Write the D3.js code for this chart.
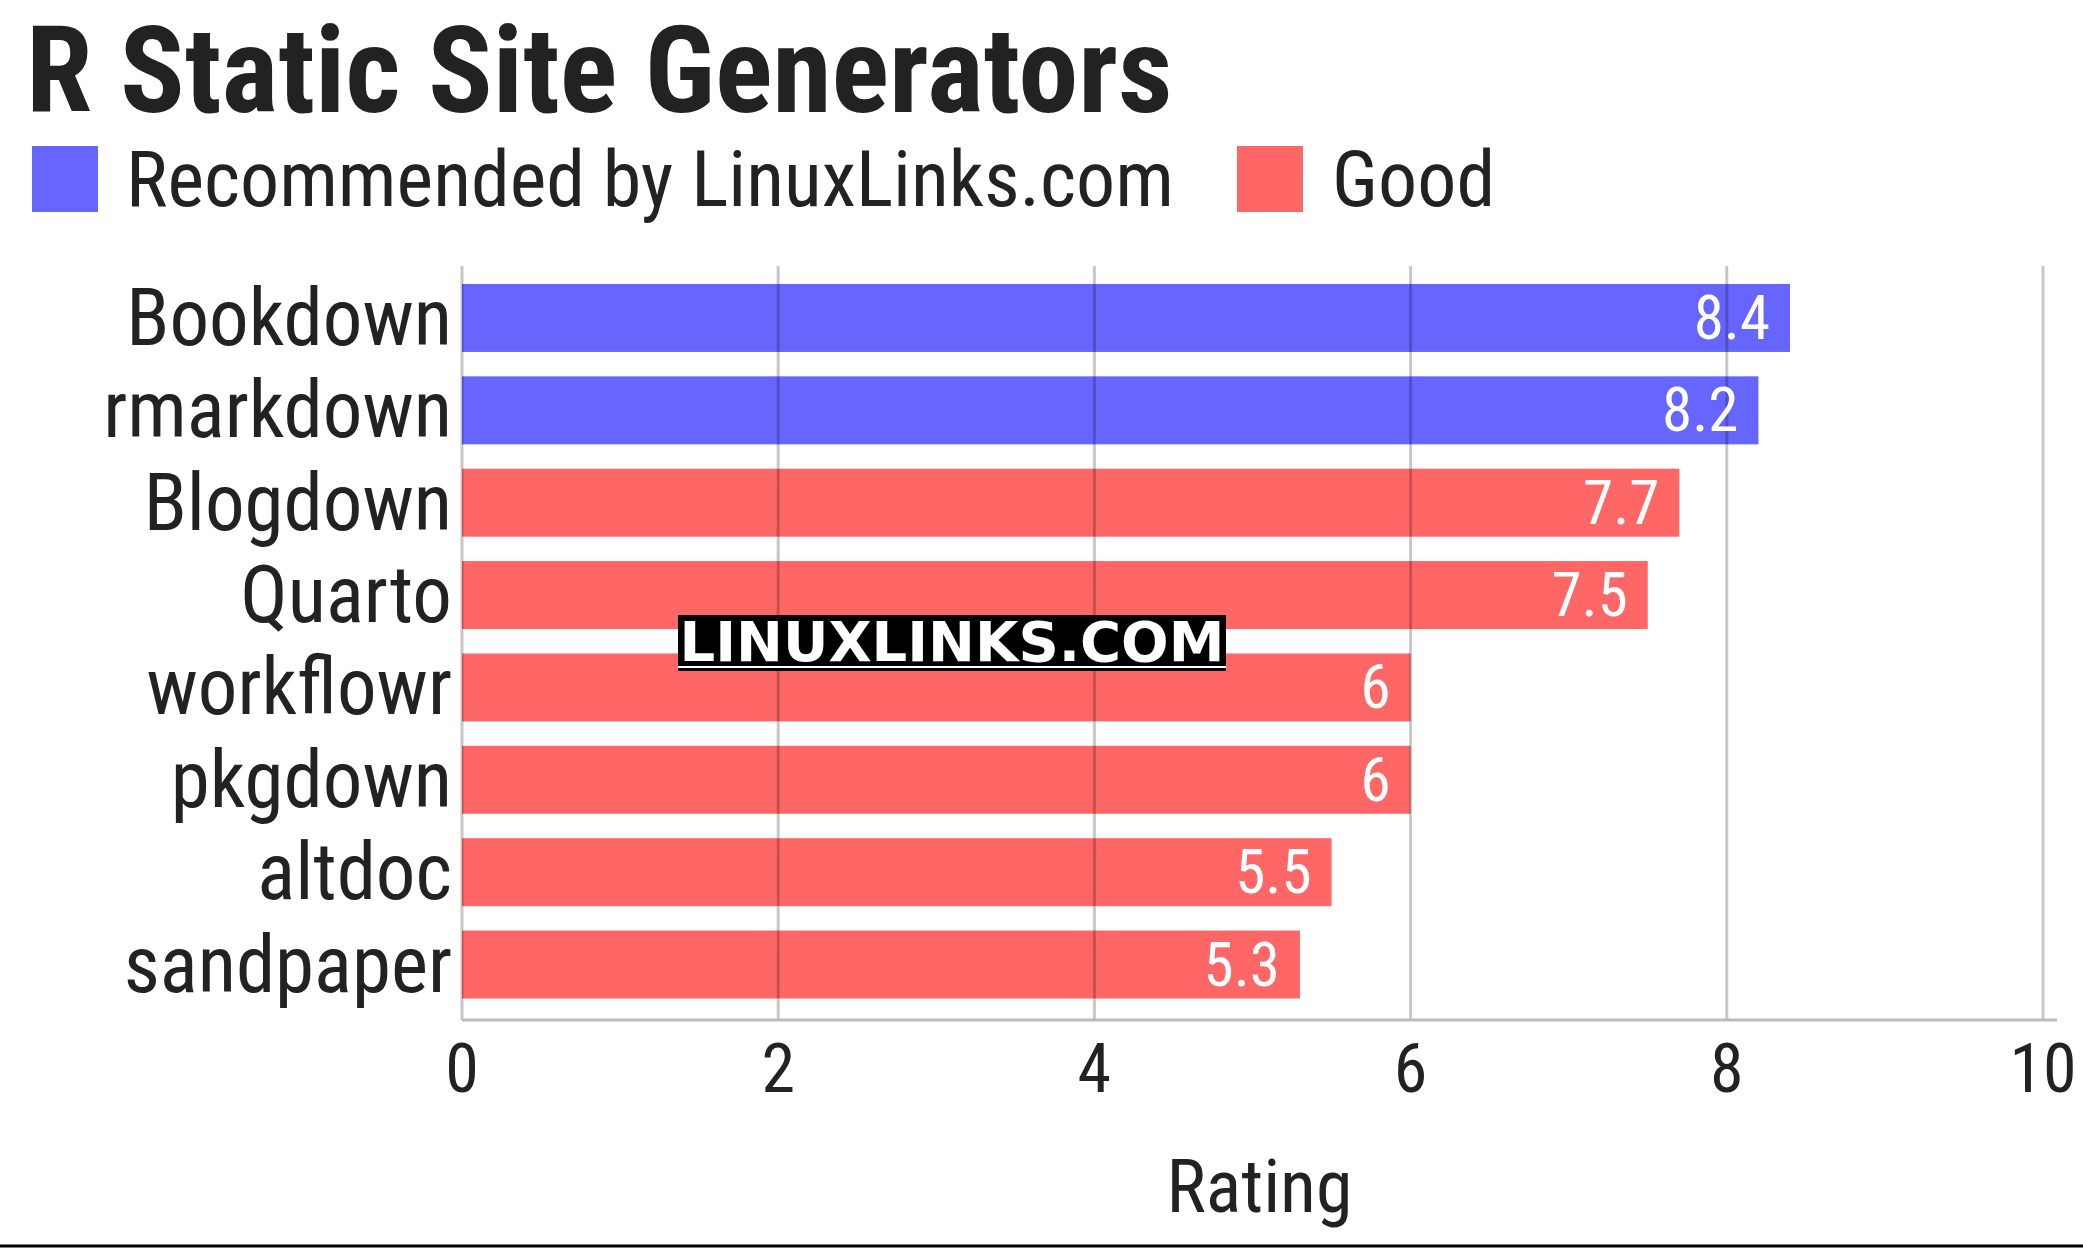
<!DOCTYPE html>
<html><head><meta charset="utf-8">
<script src="https://cdn.jsdelivr.net/npm/d3@7"></script>
<style>
body{margin:0;background:#fff}
text{font-family:"Roboto Condensed","Liberation Sans Narrow",Roboto,sans-serif;fill:#222}
</style></head><body>
<div id="graph"></div>
<script>
const names = ["Bookdown","rmarkdown","Blogdown","Quarto","workflowr","pkgdown","altdoc","sandpaper"];
const ratings = [8.4,8.2,7.7,7.5,6,6,5.5,5.3];
const groups = ["rec","rec","good","good","good","good","good","good"];
const legendLabels = ["Recommended by LinuxLinks.com","Good"];
const ticks = [0,2,4,6,8,10];

const W = 2083, H = 1249;
const svg = d3.select("#graph").append("svg").attr("width", W).attr("height", H);
const color = d3.scaleOrdinal().domain(["rec","good"]).range(["#6666ff","#ff6666"]);

const x = d3.scaleLinear().domain([0,10]).range([462,2043]);
const y = d3.scaleBand().domain(names).range([265.5,1017]).paddingInner(0.264).paddingOuter(0.2);

// title
svg.append("text").attr("x",26).attr("y",112).style("font-size","120px").style("font-weight","bold")
  .text("R Static Site Generators");

// legend
const leg = svg.append("g");
leg.append("rect").attr("x",32).attr("y",146).attr("width",66).attr("height",66).attr("fill",color("rec"));
leg.append("text").attr("x",126).attr("y",206).style("font-size","78px").text(legendLabels[0]);
leg.append("rect").attr("x",1237).attr("y",146).attr("width",66).attr("height",66).attr("fill",color("good"));
leg.append("text").attr("x",1332).attr("y",206).style("font-size","78px").text(legendLabels[1]);

// bars
svg.selectAll(".bar").data(names).join("rect")
  .attr("x",x(0)).attr("y",d=>y(d)).attr("height",y.bandwidth())
  .attr("width",(d,i)=>x(ratings[i])-x(0)).attr("fill",(d,i)=>color(groups[i]));

// grid
svg.selectAll(".grid").data(ticks).join("line")
  .attr("x1",d=>x(d)).attr("x2",d=>x(d)).attr("y1",266).attr("y2",1020)
  .attr("stroke","#000").attr("stroke-opacity",0.22).attr("stroke-width",3);
svg.append("line").attr("x1",x(0)).attr("x2",2057).attr("y1",1020).attr("y2",1020)
  .attr("stroke","#bbb").attr("stroke-width",3);

// value labels
svg.selectAll(".val").data(names).join("text")
  .attr("x",(d,i)=>x(ratings[i])-20).attr("y",d=>y(d)+y.bandwidth()/2+21)
  .attr("text-anchor","end").style("font-size","61px").style("fill","#fff")
  .text((d,i)=>ratings[i]);

// category labels
svg.selectAll(".cat").data(names).join("text")
  .attr("x",452).attr("y",d=>y(d)+y.bandwidth()/2+27)
  .attr("text-anchor","end").style("font-size","79px").text(d=>d);

// x ticks
svg.selectAll(".tick").data(ticks).join("text")
  .attr("x",d=>x(d)).attr("y",1092).attr("text-anchor","middle")
  .style("font-size","68px").text(d=>d);
svg.append("text").attr("x",(x(0)+2057)/2).attr("y",1212).attr("text-anchor","middle")
  .style("font-size","74px").text("Rating");

// watermark
svg.append("rect").attr("x",678).attr("y",615).attr("width",548).attr("height",56).attr("fill","#000");
svg.append("line").attr("x1",678).attr("x2",1226).attr("y1",667).attr("y2",667).attr("stroke","#fff").attr("stroke-width",2);
svg.append("text").attr("x",952).attr("y",661).attr("text-anchor","middle")
  .style("font-size","56px").style("font-weight","bold").style("fill","#fff")
  .style("font-family","'DejaVu Sans',sans-serif").text("LINUXLINKS.COM");

svg.append("line").attr("x1",0).attr("x2",W).attr("y1",1246).attr("y2",1246).attr("stroke","#000").attr("stroke-width",3);
</script></body></html>
